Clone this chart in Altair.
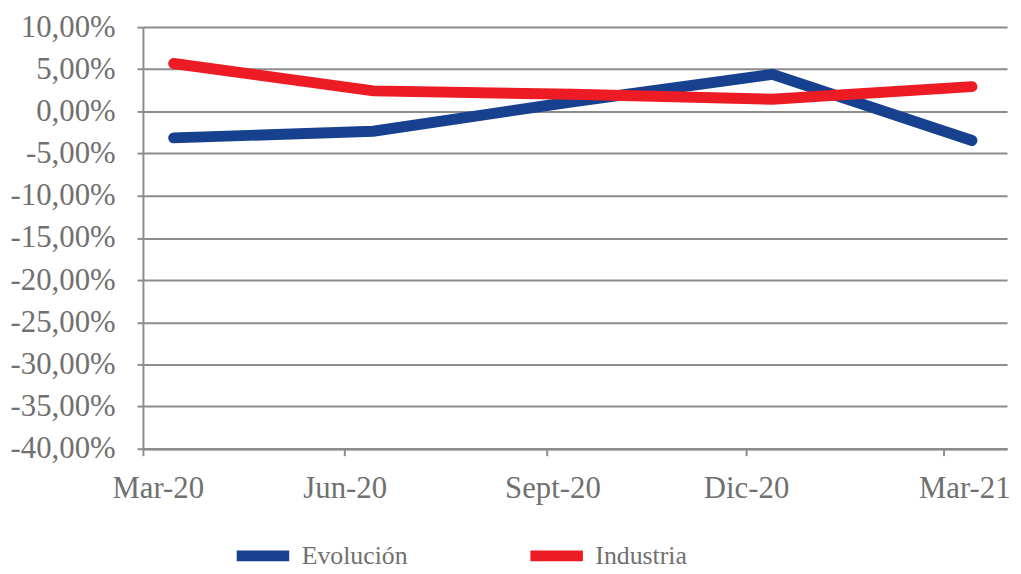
import altair as alt
import pandas as pd

# ---- data ----
period_dates = ["2020-03-15", "2020-06-14", "2020-09-13", "2020-12-13", "2021-03-14"]
evolucion = [-3.14, -2.35, 1.15, 4.39, -3.45]      # percent
industria = [5.68, 2.44, 2.03, 1.45, 2.94]         # percent
series_names = ["Evolución", "Industria"]
series_colors = ["#17408F", "#ED1C24"]

tick_dates = ["2020-03-01", "2020-06-01", "2020-09-01", "2020-12-01", "2021-03-01"]
tick_labels = ["Mar-20", "Jun-20", "Sept-20", "Dic-20", "Mar-21"]
axis_end_date = "2021-03-30"
y_ticks = [10, 5, 0, -5, -10, -15, -20, -25, -30, -35, -40]  # percent

# ---- build table ----
origin = pd.Timestamp(tick_dates[0])
def day(d):
    return (pd.Timestamp(d) - origin).days

rows = []
for name, vals in zip(series_names, [evolucion, industria]):
    for d, v in zip(period_dates, vals):
        rows.append({"day": day(d), "value": v / 100.0, "serie": name})
df = pd.DataFrame(rows)

tick_days = [day(d) for d in tick_dates]
x_label_expr = " : ".join(
    f"datum.value == {t} ? '{l}'" for t, l in zip(tick_days, tick_labels)
) + " : ''"

grey_text = "#707070"
grey_line = "#8C8C8C"

chart = (
    alt.Chart(df)
    .mark_line(strokeWidth=11, strokeCap="round", strokeJoin="miter")
    .encode(
        x=alt.X(
            "day:Q",
            scale=alt.Scale(domain=[0, day(axis_end_date)], nice=False, zero=False),
            axis=alt.Axis(
                values=tick_days,
                labelExpr=x_label_expr,
                title=None,
                grid=False,
                labelFlush=False,
                domainColor=grey_line,
                domainWidth=2.5,
                tickColor=grey_line,
                tickWidth=2,
                tickSize=7,
                labelPadding=18,
                labelFont="Liberation Serif",
                labelFontSize=31,
                labelColor=grey_text,
                labelOffset={
                    "condition": [
                        {"test": f"datum.value == {tick_days[0]}", "value": 15},
                        {"test": f"datum.value == {tick_days[2]}", "value": 6},
                        {"test": f"datum.value == {tick_days[4]}", "value": 21},
                    ],
                    "value": 0,
                },
            ),
        ),
        y=alt.Y(
            "value:Q",
            scale=alt.Scale(domain=[-0.40, 0.10], nice=False, zero=False),
            axis=alt.Axis(
                values=[v / 100.0 for v in y_ticks],
                labelExpr="(datum.value < -0.00001 ? '-' : '') + replace(format(abs(datum.value), '.2%'), '.', ',')",
                title=None,
                grid=True,
                gridColor=grey_line,
                gridWidth=2,
                domainColor=grey_line,
                domainWidth=2,
                tickColor=grey_line,
                tickWidth=2,
                tickSize=6,
                labelPadding=22,
                labelFont="Liberation Serif",
                labelFontSize=31,
                labelColor=grey_text,
            ),
        ),
        color=alt.Color(
            "serie:N",
            scale=alt.Scale(domain=series_names, range=series_colors),
            legend=alt.Legend(
                title=None,
                orient="none",
                direction="horizontal",
                legendX=102,
                legendY=514,
                symbolType="M-2,0H2",
                symbolSize=700,
                symbolStrokeWidth=11,
                labelFont="Liberation Serif",
                labelFontSize=26,
                labelColor=grey_text,
                labelOffset=20,
                columnPadding=101,
                padding=0,
            ),
        ),
    )
    .properties(
        width=871,
        height=425,
        padding={"left": 136, "top": 17, "right": 6, "bottom": 124},
        autosize=alt.AutoSizeParams(type="none"),
    )
    .configure_view(stroke=None)
)

chart.save("out.html", embed_options={"renderer": "svg", "actions": False})
